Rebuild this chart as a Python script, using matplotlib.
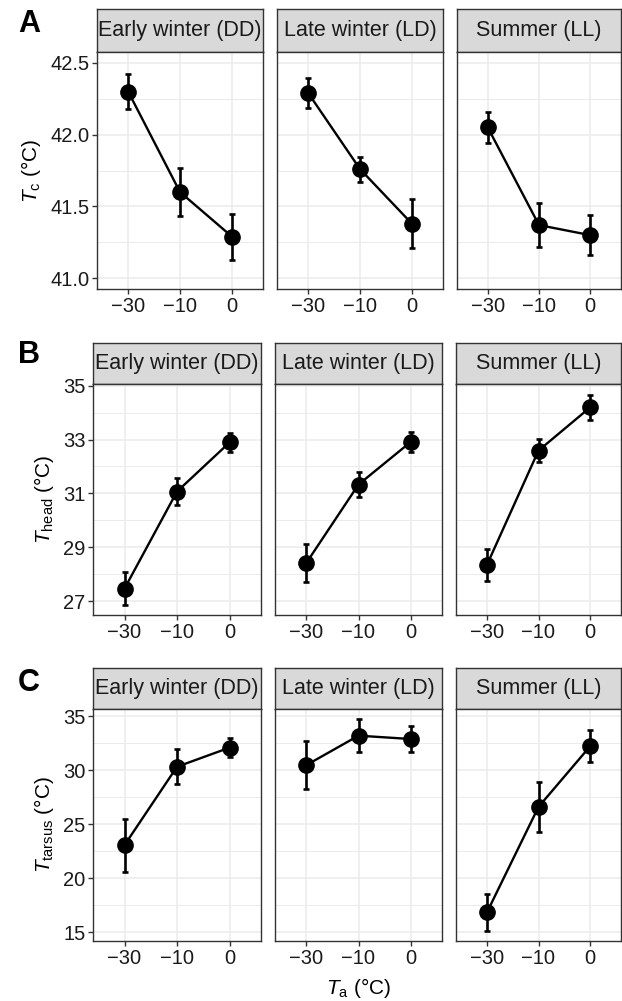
import numpy as np
import matplotlib
matplotlib.use('Agg')
import matplotlib.pyplot as plt
from matplotlib.ticker import FixedLocator

plt.rcParams['font.family'] = ['Liberation Sans', 'DejaVu Sans']
plt.rcParams['mathtext.fontset'] = 'custom'
plt.rcParams['mathtext.rm'] = 'Liberation Sans'
plt.rcParams['mathtext.it'] = 'Liberation Sans:italic'

seasons = ['Early winter (DD)', 'Late winter (LD)', 'Summer (LL)']
ta_labels = ['\u221230', '\u221210', '0']

tc_mean = [[42.30, 41.60, 41.29], [42.29, 41.76, 41.38], [42.05, 41.37, 41.30]]
tc_se = [[0.12, 0.17, 0.16], [0.105, 0.087, 0.17], [0.11, 0.155, 0.137]]

thead_mean = [[27.47, 31.07, 32.89], [28.42, 31.33, 32.91], [28.35, 32.59, 34.19]]
thead_se = [[0.60, 0.50, 0.36], [0.71, 0.47, 0.36], [0.59, 0.43, 0.48]]

ttarsus_mean = [[23.06, 30.32, 32.09], [30.47, 33.20, 32.89], [16.83, 26.60, 32.21]]
ttarsus_se = [[2.45, 1.63, 0.90], [2.25, 1.50, 1.24], [1.70, 2.30, 1.47]]

W, H = 622, 1001
fig = plt.figure(figsize=(W / 100, H / 100), dpi=100, facecolor='w')

GRID = '#EBEBEB'
DARK = '#333333'


def px_axes(x0, x1, y0, y1):
    return fig.add_axes([x0 / W, 1 - y1 / H, (x1 - x0) / W, (y1 - y0) / H])


def draw_row(letter, means, errs, ylabel, ylim, yticks, yminor, yfmt,
             cols, strip_top, strip_bot, panel_bot, letter_y):
    for i, (x0, x1) in enumerate(cols):
        strip = px_axes(x0, x1, strip_top, strip_bot)
        strip.set_facecolor('#D9D9D9')
        strip.set_xticks([])
        strip.set_yticks([])
        for s in strip.spines.values():
            s.set_color(DARK)
            s.set_linewidth(1.0)
        strip.text(0.5, 0.5, seasons[i], ha='center', va='center',
                   fontsize=15.5, color='#1A1A1A', transform=strip.transAxes)

        ax = px_axes(x0, x1, strip_bot, panel_bot)
        pos = np.arange(1, len(ta_labels) + 1)
        ax.set_xlim(0.4, 3.6)
        ax.set_ylim(*ylim)
        ax.set_xticks(pos)
        ax.set_xticklabels(ta_labels)
        ax.yaxis.set_major_locator(FixedLocator(yticks))
        ax.yaxis.set_minor_locator(FixedLocator(yminor))
        ax.grid(which='major', color=GRID, lw=1.1, zorder=0)
        ax.grid(which='minor', axis='y', color=GRID, lw=0.7, zorder=0)
        ax.set_axisbelow(True)
        ax.tick_params(axis='both', which='major', length=3.5, width=1.0,
                       color=DARK, labelsize=14.5, labelcolor='#1A1A1A', pad=2)
        ax.tick_params(axis='y', which='minor', length=0)
        if i == 0:
            ax.set_yticklabels([yfmt.format(t) for t in yticks])
            ax.set_ylabel(ylabel, fontsize=15, labelpad=5)
        else:
            ax.tick_params(axis='y', which='major', length=0, labelleft=False)
        for s in ax.spines.values():
            s.set_color(DARK)
            s.set_linewidth(1.0)
        ax.errorbar(pos, means[i], yerr=errs[i], color='k', lw=1.7,
                    elinewidth=1.9, capsize=2.2, capthick=1.9,
                    marker='o', markersize=11, zorder=3)

    fig.text(18 / W, 1 - letter_y / H, letter, fontsize=22, fontweight='bold',
             ha='left', va='top')


cols_a = [(97, 263), (277, 443), (457, 621)]
cols_bc = [(93, 261), (275, 442), (456, 621)]

draw_row('A', tc_mean, tc_se, r'$\mathit{T}_{\mathrm{c}}$ (°C)',
         (40.925, 42.575), [41.0, 41.5, 42.0, 42.5], [41.25, 41.75, 42.25],
         '{:.1f}', cols_a, 9, 52, 289, 9)

draw_row('B', thead_mean, thead_se, r'$\mathit{T}_{\mathrm{head}}$ (°C)',
         (26.49, 35.06), [27, 29, 31, 33, 35], [28, 30, 32, 34],
         '{:.0f}', cols_bc, 343, 384, 615, 340)

draw_row('C', ttarsus_mean, ttarsus_se, r'$\mathit{T}_{\mathrm{tarsus}}$ (°C)',
         (14.18, 35.67), [15, 20, 25, 30, 35], [17.5, 22.5, 27.5, 32.5],
         '{:.0f}', cols_bc, 668, 709, 941, 668)

fig.text(358.5 / W, 1 - 988 / H, r'$\mathit{T}_{\mathrm{a}}$ (°C)',
         fontsize=15, ha='center', va='center')

fig.savefig('out.png', dpi=100, facecolor='w')
